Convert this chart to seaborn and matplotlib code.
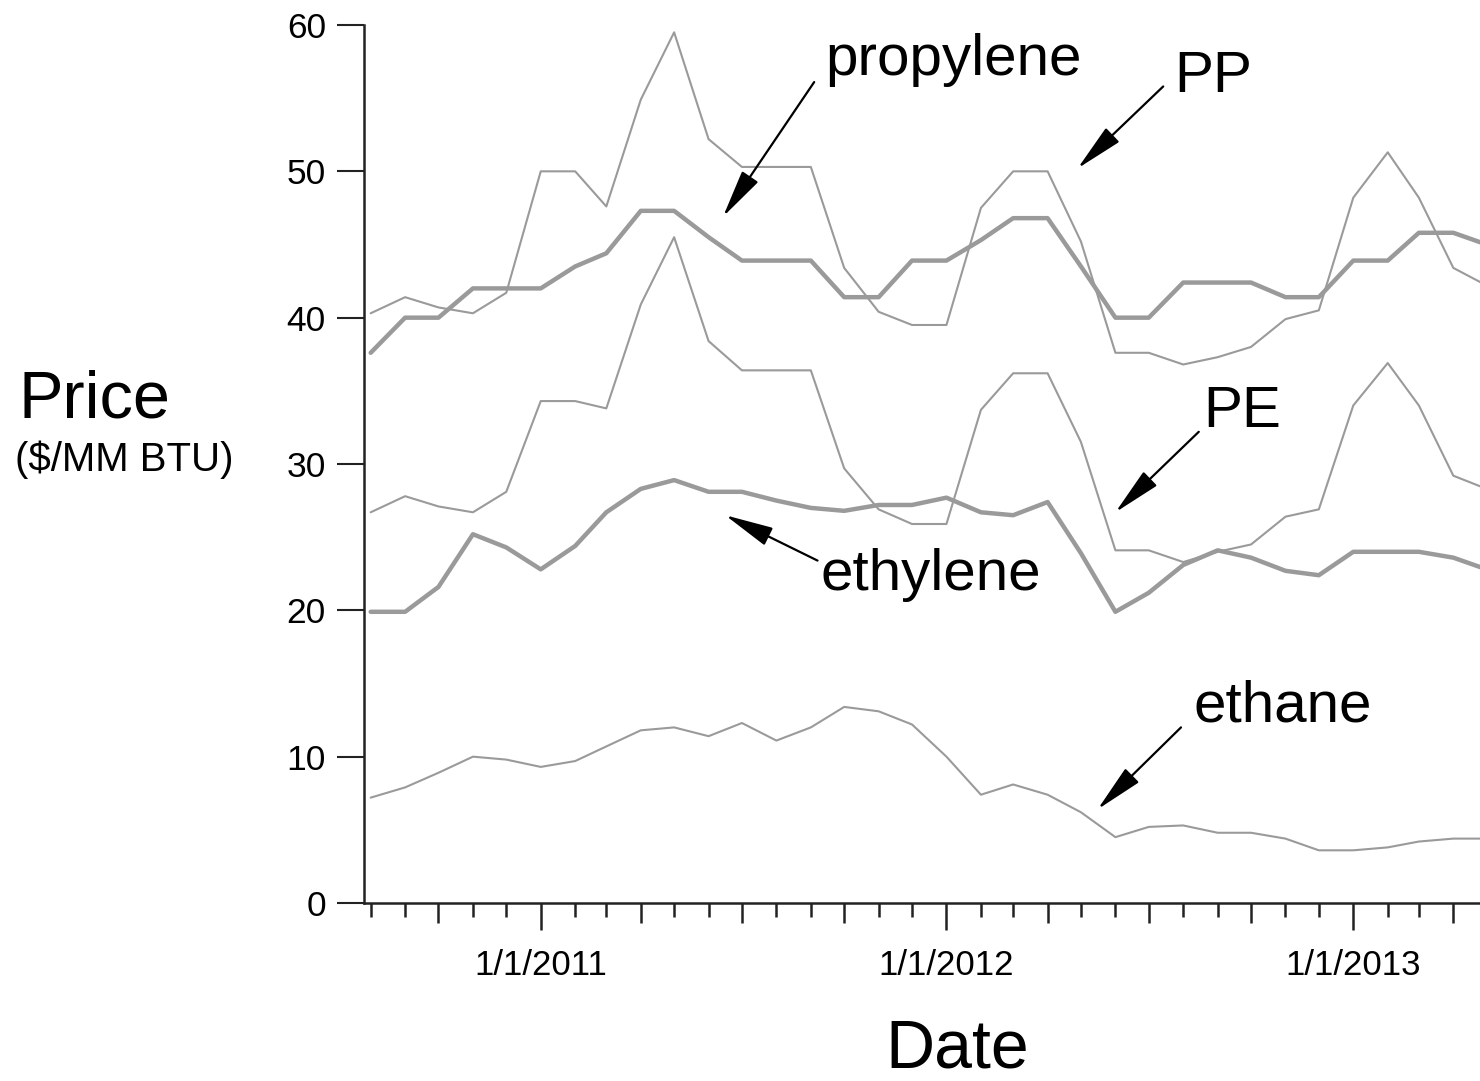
import matplotlib
matplotlib.use("Agg")
import matplotlib.pyplot as plt
import matplotlib.dates as mdates
import seaborn as sns
import pandas as pd

# monthly prices, Aug 2010 - May 2013 ($/MM BTU)
months = pd.date_range("2010-08-01", periods=34, freq="MS")

pp = [40.3, 41.4, 40.7, 40.3, 41.7, 50.0, 50.0, 47.6, 54.9, 59.5, 52.2, 50.3,
      50.3, 50.3, 43.4, 40.4, 39.5, 39.5, 47.5, 50.0, 50.0, 45.2, 37.6, 37.6,
      36.8, 37.3, 38.0, 39.9, 40.5, 48.2, 51.3, 48.2, 43.4, 42.2]
propylene = [37.6, 40.0, 40.0, 42.0, 42.0, 42.0, 43.5, 44.4, 47.3, 47.3, 45.5, 43.9,
             43.9, 43.9, 41.4, 41.4, 43.9, 43.9, 45.3, 46.8, 46.8, 43.5, 40.0, 40.0,
             42.4, 42.4, 42.4, 41.4, 41.4, 43.9, 43.9, 45.8, 45.8, 45.0]
pe = [26.7, 27.8, 27.1, 26.7, 28.1, 34.3, 34.3, 33.8, 40.9, 45.5, 38.4, 36.4,
      36.4, 36.4, 29.7, 26.9, 25.9, 25.9, 33.7, 36.2, 36.2, 31.5, 24.1, 24.1,
      23.3, 24.0, 24.5, 26.4, 26.9, 34.0, 36.9, 34.0, 29.2, 28.3]
ethylene = [19.9, 19.9, 21.6, 25.2, 24.3, 22.8, 24.4, 26.7, 28.3, 28.9, 28.1, 28.1,
            27.5, 27.0, 26.8, 27.2, 27.2, 27.7, 26.7, 26.5, 27.4, 23.9, 19.9, 21.2,
            23.1, 24.1, 23.6, 22.7, 22.4, 24.0, 24.0, 24.0, 23.6, 22.8]
ethane = [7.2, 7.9, 8.9, 10.0, 9.8, 9.3, 9.7, 10.7, 11.8, 12.0, 11.4, 12.3,
          11.1, 12.0, 13.4, 13.1, 12.2, 10.0, 7.4, 8.1, 7.4, 6.2, 4.5, 5.2,
          5.3, 4.8, 4.8, 4.4, 3.6, 3.6, 3.8, 4.2, 4.4, 4.4]

series = [(pp, 1.5), (propylene, 3.2), (pe, 1.5), (ethylene, 3.2), (ethane, 1.5)]

# label text, text anchor, arrow tail, arrow head
labels = [
    ("propylene", ("2011-09-14", 56.6), ("2011-09-04", 56.1), ("2011-06-14", 46.9)),
    ("PP", ("2012-07-24", 55.4), ("2012-07-14", 55.8), ("2012-04-28", 50.2)),
    ("PE", ("2012-08-19", 32.5), ("2012-08-15", 32.2), ("2012-06-01", 26.7)),
    ("ethylene", ("2011-09-10", 21.4), ("2011-09-07", 23.4), ("2011-06-16", 26.5)),
    ("ethane", ("2012-08-10", 12.4), ("2012-07-30", 12.0), ("2012-05-16", 6.4)),
]

sns.set_style("ticks")
plt.rcParams["font.family"] = ["Liberation Sans", "DejaVu Sans"]
plt.rcParams["text.color"] = "black"
plt.rcParams["xtick.labelcolor"] = "black"
plt.rcParams["ytick.labelcolor"] = "black"

fig = plt.figure(figsize=(14.8, 10.81), dpi=100)
ax = fig.add_axes([364 / 1480, 178 / 1081, 1 - 364 / 1480, 878 / 1081])

for vals, lw in series:
    sns.lineplot(x=months, y=vals, color="#9a9a9a", lw=lw, ax=ax)

ax.set_ylim(0, 60)
ax.set_yticks(range(0, 61, 10))
ax.set_xlim(pd.Timestamp("2010-07-26"), pd.Timestamp("2013-04-25"))
ax.set_xlabel("")
ax.set_ylabel("")

ax.xaxis.set_major_locator(mdates.MonthLocator(bymonth=[1, 4, 7, 10]))
ax.xaxis.set_minor_locator(mdates.MonthLocator())
ax.xaxis.set_major_formatter(plt.FuncFormatter(
    lambda v, pos: "1/1/%d" % mdates.num2date(v).year if mdates.num2date(v).month == 1 else ""))

sns.despine(ax=ax)
for s in ["left", "bottom"]:
    ax.spines[s].set_linewidth(1.8)
    ax.spines[s].set_color("#222222")

ax.tick_params(axis="y", length=19.4, width=1.5, pad=8, labelsize=25.5, color="#222222", labelcolor="black")
ax.tick_params(axis="x", which="major", length=14.4, width=1.8, pad=19, labelsize=25,
               color="#222222", labelcolor="black")
ax.tick_params(axis="x", which="minor", length=10, width=1.8, color="#222222")

fig.canvas.draw()
for t, loc in zip(ax.xaxis.get_major_ticks(), ax.get_xticks()):
    if mdates.num2date(loc).month == 1:
        t.tick1line.set_markersize(19.4)

for txt, pos, tail, head in labels:
    ax.text(mdates.date2num(pd.Timestamp(pos[0])), pos[1], txt, fontsize=42, va="baseline", ha="left")
    ax.annotate("", xy=(mdates.date2num(pd.Timestamp(head[0])), head[1]),
                xytext=(mdates.date2num(pd.Timestamp(tail[0])), tail[1]),
                arrowprops=dict(arrowstyle="-|>,head_length=1.0,head_width=0.2", color="black",
                                lw=1.6, mutation_scale=30, shrinkA=0, shrinkB=0))

fig.text(18 / 1480, 1 - 418 / 1081, "Price", fontsize=48, va="baseline", ha="left")
fig.text(15 / 1480, 1 - 471 / 1081, "($/MM BTU)", fontsize=29, va="baseline", ha="left")
fig.text(957 / 1480, 1 - 1068 / 1081, "Date", fontsize=49, va="baseline", ha="center")

fig.savefig("out.png", dpi=100)
